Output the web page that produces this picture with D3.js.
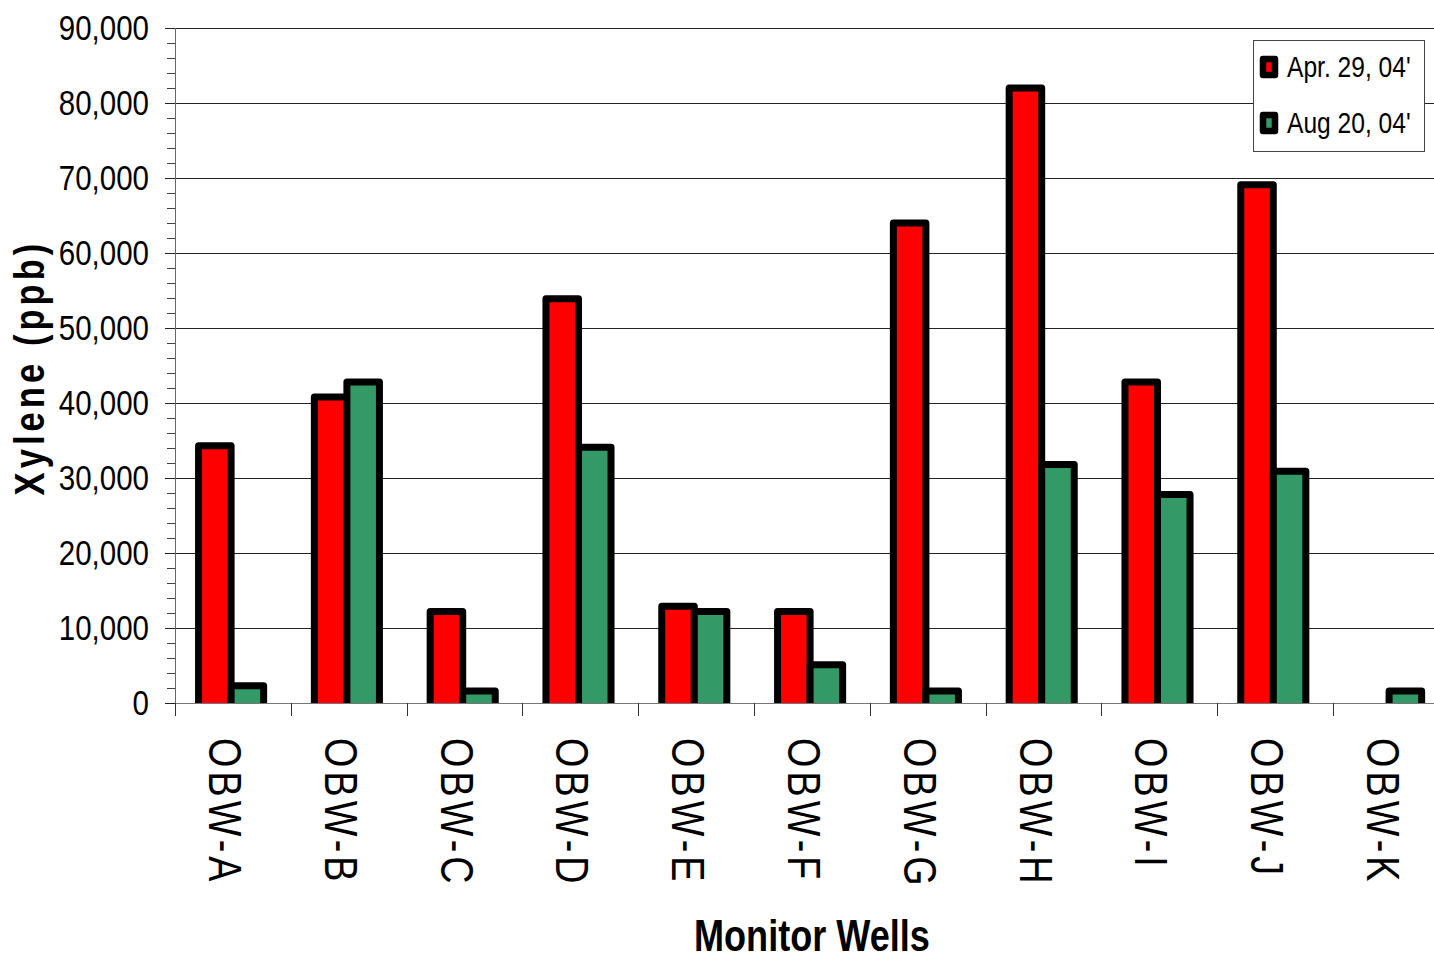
<!DOCTYPE html>
<html>
<head>
<meta charset="utf-8">
<script src="https://cdn.jsdelivr.net/npm/d3@7/dist/d3.min.js"></script>
<style>
  html, body { margin: 0; padding: 0; background: #fff; }
  svg { display: block; }
</style>
</head>
<body>
<svg id="chart" width="1434" height="961"></svg>
<script>
// Xylene concentrations (ppb) at each monitor well, two sampling dates
const wells = ["OBW-A", "OBW-B", "OBW-C", "OBW-D", "OBW-E", "OBW-F", "OBW-G", "OBW-H", "OBW-I", "OBW-J", "OBW-K"];
const seriesNames = ["Apr. 29, 04'", "Aug 20, 04'"];
const april = [34300, 40800, 12200, 53900, 12900, 12200, 64000, 82000, 42800, 69100, null];
const august = [2300, 42800, 1600, 34100, 12200, 5100, 1600, 31800, 27800, 30900, 1600];
const seriesColors = ["#ff0000", "#339966"];
const yMajorTicks = [0, 10000, 20000, 30000, 40000, 50000, 60000, 70000, 80000, 90000];
const yMinorStep = 2000;
const yMax = 90000;

// condensed sans: regular face squeezed horizontally
const FONT = "'Liberation Sans', Arial, sans-serif";
const SQUEEZE = 0.82;

const svg = d3.select("#chart");
const W = 1434, H = 961;
const plot = { left: 175, top: 28, bottom: 703, band: 115.8 };
plot.right = plot.left + plot.band * wells.length;

const x = d3.scaleBand().domain(wells).range([plot.left, plot.right]).padding(0);
const groupW = x.bandwidth() * 0.562;
const xs = d3.scaleBand().domain(seriesNames).range([0, groupW]).padding(0);
const y = d3.scaleLinear().domain([0, yMax]).range([plot.bottom, plot.top]);

svg.append("rect").attr("width", W).attr("height", H).attr("fill", "#fff");

// horizontal gridlines
svg.append("g")
  .attr("transform", `translate(${plot.left},0)`)
  .call(d3.axisLeft(y).tickValues(yMajorTicks.filter(d => d > 0)).tickSize(-(plot.right - plot.left)).tickFormat(""))
  .call(g => g.select(".domain").remove())
  .call(g => g.selectAll("line").attr("stroke", "#222").attr("stroke-width", 1).attr("shape-rendering", "crispEdges"));

// bars (clipped at the baseline)
svg.append("clipPath").attr("id", "plotClip")
  .append("rect").attr("x", plot.left).attr("y", 0).attr("width", plot.right - plot.left).attr("height", plot.bottom);

const rows = wells.map((w, i) => ({ well: w, values: [april[i], august[i]] }));
const barsG = svg.append("g").attr("clip-path", "url(#plotClip)");
const groups = barsG.selectAll("g.well").data(rows).join("g")
  .attr("class", "well")
  .attr("transform", d => `translate(${x(d.well) + (x.bandwidth() - groupW) / 2 - 1.8},0)`);
groups.selectAll("rect")
  .data(d => d.values.map((v, k) => ({ name: seriesNames[k], value: v, k })).filter(e => e.value != null))
  .join("rect")
  .attr("x", e => xs(e.name))
  .attr("width", xs.bandwidth())
  .attr("y", e => y(e.value))
  .attr("height", e => plot.bottom - y(e.value) + 6)
  .attr("fill", e => seriesColors[e.k])
  .attr("stroke", "#000")
  .attr("stroke-width", 7)
  .attr("stroke-linejoin", "round");

// y axis: minor ticks
svg.append("g")
  .attr("transform", `translate(${plot.left},0)`)
  .call(d3.axisLeft(y).tickValues(d3.range(0, yMax + 1, yMinorStep)).tickSize(8).tickFormat(""))
  .call(g => g.select(".domain").remove())
  .call(g => g.selectAll("line").attr("stroke", "#444").attr("shape-rendering", "crispEdges"));

// y axis: major ticks and labels
const yLabelOffset = 26;
svg.append("g")
  .attr("transform", `translate(${plot.left},0)`)
  .call(d3.axisLeft(y).tickValues(yMajorTicks).tickSize(10).tickPadding(16).tickFormat(d3.format(",")))
  .call(g => g.select(".domain").attr("stroke", "#666").attr("shape-rendering", "crispEdges"))
  .call(g => g.selectAll("line").attr("stroke", "#222").attr("shape-rendering", "crispEdges"))
  .call(g => g.selectAll("text")
    .attr("font-family", FONT).attr("font-size", 36).attr("fill", "#000").attr("dy", "0.33em")
    .attr("x", -yLabelOffset / SQUEEZE)
    .attr("transform", `scale(${SQUEEZE},1)`));

// x axis baseline and category boundary ticks
svg.append("line")
  .attr("x1", plot.left).attr("x2", plot.right)
  .attr("y1", plot.bottom + 0.5).attr("y2", plot.bottom + 0.5)
  .attr("stroke", "#777");
svg.append("g").selectAll("line").data(wells).join("line")
  .attr("x1", d => Math.round(x(d)) + 0.5).attr("x2", d => Math.round(x(d)) + 0.5)
  .attr("y1", plot.bottom).attr("y2", plot.bottom + 13)
  .attr("stroke", "#333");

// x category labels, rotated to read top-to-bottom
svg.append("g").selectAll("text").data(wells).join("text")
  .attr("transform", d => `translate(${x(d) + x.bandwidth() / 2 - 24},738) rotate(90) scale(${SQUEEZE},1)`)
  .attr("font-family", FONT)
  .attr("font-size", 46)
  .attr("letter-spacing", 5)
  .attr("fill", "#000")
  .text(d => d);

// axis titles
svg.append("text")
  .attr("transform", `translate(${(plot.left + plot.right) / 2},951) scale(${SQUEEZE},1)`)
  .attr("text-anchor", "middle")
  .attr("font-family", FONT).attr("font-weight", "bold").attr("font-size", 44)
  .text("Monitor Wells");

svg.append("text")
  .attr("transform", `translate(44,${(plot.top + plot.bottom) / 2 + 2}) rotate(-90) scale(${SQUEEZE},1)`)
  .attr("text-anchor", "middle")
  .attr("font-family", FONT).attr("font-weight", "bold").attr("font-size", 42)
  .attr("letter-spacing", 5)
  .text("Xylene (ppb)");

// legend
const legend = svg.append("g").attr("transform", "translate(1253,40)");
legend.append("rect")
  .attr("x", 0.5).attr("y", 0.5).attr("width", 171).attr("height", 111)
  .attr("fill", "#fff").attr("stroke", "#444");
const items = legend.selectAll("g.item").data(seriesNames).join("g")
  .attr("class", "item")
  .attr("transform", (d, i) => `translate(0,${27 + i * 56})`);
items.append("rect")
  .attr("x", 10).attr("y", -8).attr("width", 12).attr("height", 16)
  .attr("fill", (d, i) => seriesColors[i])
  .attr("stroke", "#000").attr("stroke-width", 6.5).attr("stroke-linejoin", "round");
items.append("text")
  .attr("transform", `translate(34,10) scale(${SQUEEZE},1)`)
  .attr("font-family", FONT).attr("font-size", 30).attr("fill", "#000")
  .text(d => d);
</script>
</body>
</html>
